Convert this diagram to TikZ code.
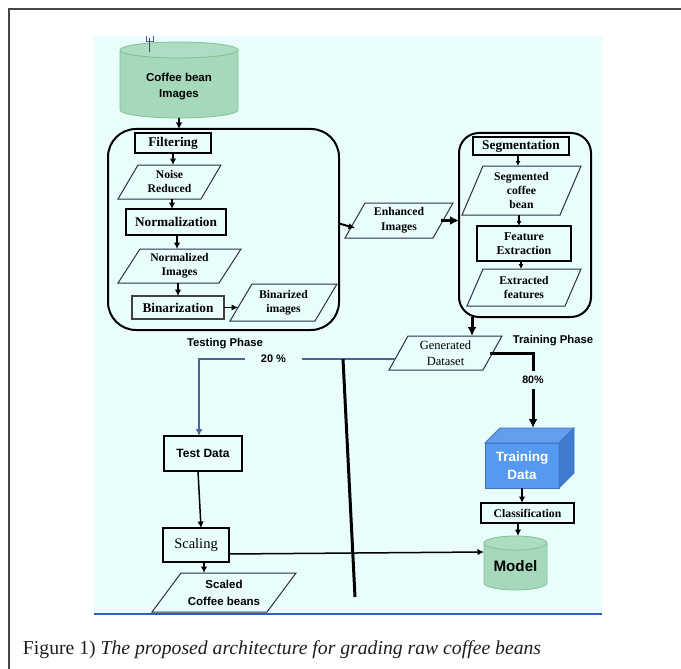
\documentclass[tikz,border=0pt]{standalone}
\usepackage{fontspec}
\setmainfont{Liberation Serif}
\setsansfont{Liberation Sans}
\usetikzlibrary{arrows.meta,calc}

\definecolor{bgcyan}{RGB}{233,253,253}
\definecolor{framecol}{RGB}{70,70,70}
\definecolor{rulecol}{RGB}{50,95,185}
\definecolor{cylfill}{RGB}{166,216,188}
\definecolor{cyltop}{RGB}{172,220,194}
\definecolor{cyledge}{RGB}{128,194,142}
\definecolor{paraedge}{RGB}{40,50,70}
\definecolor{splitblue}{RGB}{75,100,150}
\definecolor{cubefront}{RGB}{85,153,240}
\definecolor{cubetop}{RGB}{98,158,236}
\definecolor{cubeside}{RGB}{62,122,206}
\definecolor{cubeedge}{RGB}{60,118,200}
\definecolor{captcol}{RGB}{30,30,30}

\begin{document}
\begin{tikzpicture}[x=1pt,y=-1pt,
  every node/.style={inner sep=0pt, outer sep=0pt},
  procbox/.style={draw=black, rectangle, align=center,
    font=\bfseries\fontsize{13.3}{15}\selectfont},
  databox/.style={rectangle, align=center,
    font=\bfseries\fontsize{11.7}{14}\selectfont},
  paraline/.style={draw=paraedge, line width=1pt},
  sanslabel/.style={font=\sffamily\bfseries\fontsize{11.3}{13}\selectfont},
  sansbox/.style={draw=black, rectangle, align=center,
    font=\sffamily\bfseries\fontsize{12}{14}\selectfont},
  arr/.style={-{Latex[length=6.5pt,width=6.5pt]}, line width=1.5pt},
  heavyarr/.style={-{Latex[length=9pt,width=9pt]}, line width=3pt},
  phasebox/.style={draw=black, line width=2pt}
]
\useasboundingbox (0,0) rectangle (681,669);
\fill[white] (0,0) rectangle (681,669);

% page frame and diagram panel
\draw[framecol, line width=1.3pt] (9,669) -- (9,9) -- (681,9);
\fill[bgcyan] (94,36) rectangle (602,614);
\draw[rulecol, line width=2.5pt] (94,614) -- (602,614);

% image store cylinder
\fill[cylfill] (120,50) -- (120,110)
  arc[start angle=180,end angle=360,x radius=59pt,y radius=8pt] -- (238,50) -- cycle;
\draw[cyledge, line width=0.8pt] (120,50) -- (120,110)
  arc[start angle=180,end angle=360,x radius=59pt,y radius=8pt] -- (238,50);
\filldraw[fill=cyltop, draw=cyledge, line width=0.8pt] (179,50) ellipse[x radius=59pt, y radius=8pt];
\draw[gray!70!blue, line width=0.8pt] (146,36) -- (146,41) -- (153,41) -- (153,36);
\draw[gray!60!black, line width=1pt] (149.5,38) -- (149.5,52);
\node[align=center, font=\sffamily\bfseries\fontsize{11.5}{16}\selectfont,
  minimum width=118pt, minimum height=68pt] (img) at (179,84) {};
\node[align=center, font=\sffamily\bfseries\fontsize{11.5}{16}\selectfont]
  at ($(img)+(0,3)$) {Coffee bean\\Images};

% preprocessing stage
\node[phasebox, rounded corners=28pt, minimum width=231pt, minimum height=201pt] (pre) at (223.5,229.5) {};
\node[procbox, line width=1.5pt, minimum width=76pt, minimum height=20pt] (filt) at (173,143) {Filtering};
\node[databox, minimum width=103pt, minimum height=34pt] (noise) at (169.5,182) {Noise\\Reduced};
\node[procbox, line width=2.2pt, minimum width=100pt, minimum height=26pt] (norm) at (176,222) {Normalization};
\node[databox, minimum width=123pt, minimum height=34pt] (nimg) at (179.5,266) {Normalized\\Images};
\node[procbox, draw=black!75, line width=1.2pt, minimum width=92pt, minimum height=23pt] (bin) at (178,307.5) {Binarization};
\node[databox, minimum width=107pt, minimum height=37pt] (bimg) at (283.5,302.5) {Binarized\\images};
\node[sanslabel] (testph) at (225,344) {Testing Phase};

% enhanced images
\node[databox, font=\bfseries\fontsize{11.7}{15}\selectfont,
  minimum width=108pt, minimum height=35pt] (enh) at (399,220.5) {Enhanced\\Images};

% feature stage
\node[phasebox, rounded corners=20pt, minimum width=132pt, minimum height=184pt] (rbox) at (525,225) {};
\node[procbox, line width=2pt, minimum width=96pt, minimum height=18pt] (seg) at (521,146) {Segmentation};
\node[databox, minimum width=119pt, minimum height=49pt] (segc) at (521.5,190.5) {Segmented\\coffee\\bean};
\node[procbox, line width=2pt, minimum width=94pt, minimum height=35pt,
  font=\bfseries\fontsize{12}{14}\selectfont] (feat) at (524,243.5) {Feature\\Extraction};
\node[databox, minimum width=114pt, minimum height=37pt] (extr) at (524,287.5) {Extracted\\features};

% dataset split
\node[rectangle, align=center, font=\fontsize{12.5}{16}\selectfont,
  minimum width=113pt, minimum height=34pt] (gen) at (445.5,353) {Generated\\Dataset};
\node[sanslabel] (trainph) at (553,341) {Training Phase};

% testing branch
\node[sansbox, line width=1.8pt, minimum width=78pt, minimum height=35pt] (test) at (203,453.5) {Test Data};
\node[procbox, line width=2pt, minimum width=66pt, minimum height=34pt,
  font=\fontsize{14.5}{16}\selectfont] (scal) at (196,545) {Scaling};
\node[rectangle, align=center, font=\sffamily\bfseries\fontsize{11.5}{17}\selectfont,
  minimum width=144pt, minimum height=39pt] (scaled) at (224,592.5) {Scaled\\Coffee beans};

% training branch: 3-D block
\node[rectangle, fill=cubefront, draw=cubeedge, line width=0.8pt,
  minimum width=74pt, minimum height=45pt] (train) at (522,465.5) {};
\filldraw[fill=cubetop, draw=cubeedge, line width=0.8pt]
  (train.north west) -- ++(15,-15) -- ++(74,0) -- (train.north east) -- cycle;
\filldraw[fill=cubeside, draw=cubeedge, line width=0.8pt]
  (train.north east) -- ++(15,-15) -- ++(0,45) -- (train.south east) -- cycle;
\node[align=center, text=white, font=\sffamily\bfseries\fontsize{13.5}{18}\selectfont]
  at (train) {Training\\Data};
\coordinate (traintop) at ($(train.north)+(11,-15)$);

\node[procbox, line width=2pt, minimum width=93pt, minimum height=20pt,
  font=\bfseries\fontsize{11.7}{13}\selectfont] (cls) at (527.5,513) {Classification};

% model cylinder
\fill[cylfill] (484,543) -- (484,583)
  arc[start angle=180,end angle=360,x radius=31.5pt,y radius=7pt] -- (547,543) -- cycle;
\draw[cyledge, line width=0.8pt] (484,543) -- (484,583)
  arc[start angle=180,end angle=360,x radius=31.5pt,y radius=7pt] -- (547,543);
\filldraw[fill=cyltop, draw=cyledge, line width=0.8pt] (515.5,543) ellipse[x radius=31.5pt, y radius=7pt];
\node[minimum width=63pt, minimum height=54pt] (model) at (515.5,563) {};
\node[font=\sffamily\bfseries\fontsize{15.2}{17}\selectfont] at ($(model)+(0,3)$) {Model};

% parallelogram outlines of the data nodes
\foreach \n/\s in {noise/20,nimg/22,bimg/22,enh/20,segc/21,extr/16,gen/19,scaled/29}
  \draw[paraline] (\n.south west) -- ([xshift=-\s*1pt]\n.south east)
    -- (\n.north east) -- ([xshift=\s*1pt]\n.north west) -- cycle;

% connectors
\draw[arr] (img.south) -- (img.south |- pre.north);
\draw[arr] (filt.south) -- (filt.south |- noise.north);
\draw[arr] ([xshift=2.5pt]noise.south) -- ([xshift=2.5pt]noise.south |- norm.north);
\draw[arr] ([xshift=1pt]norm.south) -- ([xshift=1pt]norm.south |- nimg.north);
\draw[arr] ([xshift=-1.5pt]nimg.south) -- ([xshift=-1.5pt]nimg.south |- bin.north);
\draw[arr] (bin.east) -- ([xshift=8pt]bin.east -| bimg.west);
\draw[arr, line width=2pt] ([yshift=6pt]pre.east) -- ([xshift=10pt,yshift=-7.5pt]enh.west);
\draw[heavyarr] ([xshift=-12pt]enh.east) -- (enh.east -| rbox.west);
\draw[arr, line width=1.2pt, -{Latex[length=5pt,width=5pt]}] ([xshift=-3pt]seg.south) -- ([xshift=-3pt]seg.south |- segc.north);
\draw[arr, line width=1.2pt, -{Latex[length=5pt,width=5pt]}] ([xshift=-2.5pt]segc.south) -- ([xshift=-2.5pt]segc.south |- feat.north);
\draw[arr, line width=1.2pt, -{Latex[length=5pt,width=5pt]}] ([xshift=-3pt]feat.south) -- ([xshift=-3pt]feat.south |- extr.north);
\draw[heavyarr] ([xshift=-53pt]rbox.south) -- ([xshift=-53pt]rbox.south |- gen.north);

\draw[heavyarr] ([xshift=-12pt]gen.east) -| node[pos=0.68, fill=bgcyan, inner xsep=3pt, inner ysep=5pt,
  font=\sffamily\bfseries\fontsize{10.7}{12}\selectfont] {80\%} (traintop);
\draw[splitblue, line width=2.5pt, -{Latex[length=7pt,width=7pt]}]
  ([xshift=6pt,yshift=-6pt]gen.west) -| node[pos=0.31, fill=bgcyan, inner xsep=16pt, inner ysep=4pt,
  text=black, font=\sffamily\bfseries\fontsize{11}{12}\selectfont] {20 \%} ([xshift=-4pt]test.north);

\coordinate (strayA) at (343,359);
\coordinate (strayB) at (355,597);
\draw[line width=3pt] (strayA) -- (strayB);

\draw[arr] ([xshift=-5pt]test.south) -- ([xshift=5pt]scal.north);
\draw[arr] ([xshift=8pt]scal.south) -- ([xshift=8pt]scal.south |- scaled.north);
\draw[arr] ([yshift=-9pt]scal.east) -- ([yshift=11pt]model.west);
\draw[arr] (train.south) -- (train.south |- cls.north);
\draw[arr] ([xshift=-9.5pt]cls.south) -- ([xshift=-9.5pt]cls.south |- model.north);

% caption
\node[anchor=base west, text=captcol, font=\fontsize{19.7}{22}\selectfont] (cap) at (23,654)
  {Figure 1) \itshape The proposed architecture for grading raw coffee beans};
\end{tikzpicture}
\end{document}
